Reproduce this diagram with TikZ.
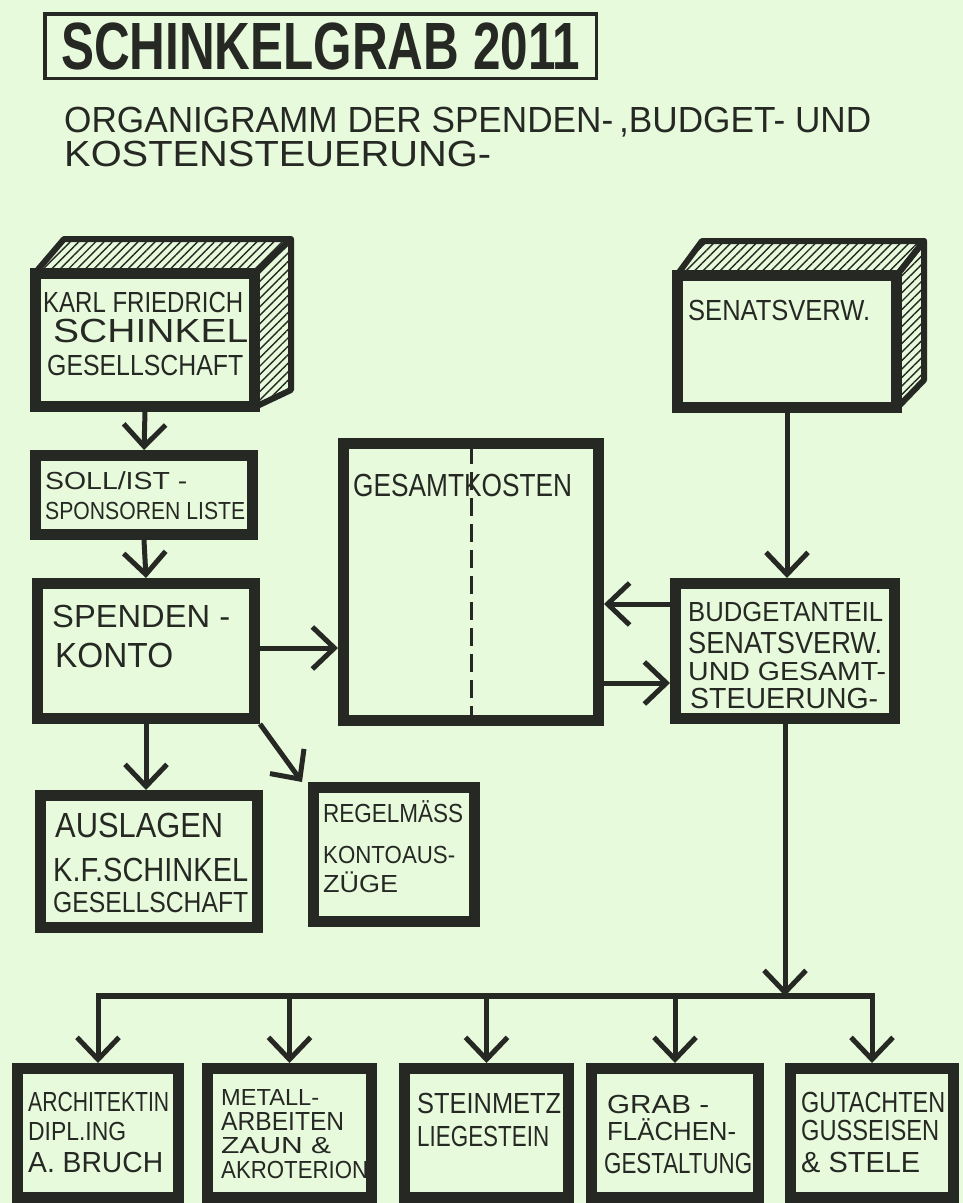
\documentclass[tikz,border=0pt]{standalone}
\usepackage{fontspec}
\newfontfamily\hand{Liberation Sans}
\usetikzlibrary{arrows.meta,patterns.meta}
\definecolor{ink}{RGB}{38,40,36}
\definecolor{paper}{RGB}{232,250,220}
\newcommand{\tx}[3]{\resizebox{#1pt}{#2pt}{\hand\smash{#3}\vphantom{X}}}
\begin{document}
\begin{tikzpicture}[x=1pt,y=-1pt,
  ibox/.style={draw=ink, line width=11pt, inner sep=0pt},
  txt/.style={inner sep=0pt, anchor=west, text=ink},
  arr/.style={draw=ink, line width=5pt, -{Straight Barb[length=22pt,width=42pt]}},
  plain/.style={draw=ink, line width=6pt},
  hatch/.style={pattern={Lines[angle=45,distance=6pt,line width=1.4pt]}, pattern color=ink},
  edge3d/.style={draw=ink, line width=6pt, line join=round},
  divider/.style={draw=ink, line width=3pt, dash pattern=on 18pt off 8pt}]
\fill[paper] (0,0) rectangle (963,1203);
\useasboundingbox (0,0) rectangle (963,1203);

% title
\node[draw=ink, line width=3.5pt, inner sep=0pt, minimum width=551.5pt, minimum height=64.5pt] (titlebox) at (320.5,46) {};
\node[txt] (ttitle) at (61,46) {\tx{519}{46}{\bfseries SCHINKELGRAB 2011}};
\node[txt] (tsub1) at (64,120) {\tx{807}{25}{ORGANIGRAMM DER SPENDEN-\,\smash{,}BUDGET- UND}};
\node[txt] (tsub2) at (64,154) {\tx{427}{25}{KOSTENSTEUERUNG-}};

% 3D faces
\fill[hatch] (35,273) -- (64,239) -- (291,239) -- (255,273) -- cycle;
\draw[edge3d] (35,273) -- (64,239) -- (291,239) -- (255,273) -- cycle;
\fill[hatch] (255,273) -- (291,239) -- (291,390) -- (255,407) -- cycle;
\draw[edge3d] (255,273) -- (291,239) -- (291,390) -- (255,407) -- cycle;
\fill[hatch] (677,275) -- (702,241) -- (924,241) -- (897,275) -- cycle;
\draw[edge3d] (677,275) -- (702,241) -- (924,241) -- (897,275) -- cycle;
\fill[hatch] (897,275) -- (924,241) -- (924,380) -- (897,408) -- cycle;
\draw[edge3d] (897,275) -- (924,241) -- (924,380) -- (897,408) -- cycle;

% boxes
\node[ibox, fill=paper, minimum width=219pt, minimum height=133pt] (kfs) at (145,340) {};
\node[ibox, minimum width=217pt, minimum height=79pt] (soll) at (144,495) {};
\node[ibox, minimum width=217pt, minimum height=135pt] (spenden) at (146,651) {};
\node[ibox, minimum width=255pt, minimum height=277pt] (gesamt) at (471,582) {};
\node[ibox, minimum width=219pt, minimum height=135pt] (budget) at (785,651) {};
\node[ibox, fill=paper, minimum width=219pt, minimum height=132pt] (senat) at (787,341.5) {};
\node[ibox, minimum width=217pt, minimum height=132pt] (auslagen) at (149,861.5) {};
\node[ibox, minimum width=161pt, minimum height=134pt] (regel) at (394,854.5) {};
\node[ibox, minimum width=161pt, minimum height=129pt] (b1) at (98,1133) {};
\node[ibox, minimum width=164pt, minimum height=129pt] (b2) at (289.5,1133) {};
\node[ibox, minimum width=164pt, minimum height=129pt] (b3) at (486.5,1133) {};
\node[ibox, minimum width=167pt, minimum height=129pt] (b4) at (675,1133) {};
\node[ibox, minimum width=163pt, minimum height=129pt] (b5) at (872,1133) {};

% divider in Gesamtkosten
\draw[divider] ([yshift=-8pt]gesamt.north) -- ([yshift=6pt]gesamt.south);

% texts
\node[txt] (k1) at (43,302) {\tx{200}{20}{KARL FRIEDRICH}};
\node[txt] (k2) at (53,331) {\tx{195}{23}{SCHINKEL}};
\node[txt] (k3) at (47,365) {\tx{196}{20}{GESELLSCHAFT}};
\node[txt] (s1) at (45,481) {\tx{142}{17}{SOLL/IST -}};
\node[txt] (s2) at (45,511) {\tx{200}{17}{SPONSOREN LISTE}};
\node[txt] (p1) at (52,616) {\tx{178}{22}{SPENDEN -}};
\node[txt] (p2) at (55,655) {\tx{118}{24}{KONTO}};
\node[txt] (g1) at (353,485) {\tx{219}{22}{GESAMTKOSTEN}};
\node[txt] (n1) at (688,310) {\tx{182}{20}{SENATSVERW.}};
\node[txt] (u1) at (688,612) {\tx{195}{19}{BUDGETANTEIL}};
\node[txt] (u2) at (688,643) {\tx{194}{21}{SENATSVERW.}};
\node[txt] (u3) at (688,671) {\tx{198}{18}{UND GESAMT-}};
\node[txt] (u4) at (690,698) {\tx{188}{20}{STEUERUNG-}};
\node[txt] (a1) at (55,825) {\tx{168}{24}{AUSLAGEN}};
\node[txt] (a2) at (53,870) {\tx{195}{23}{K.F.SCHINKEL}};
\node[txt] (a3) at (53,902) {\tx{195}{20}{GESELLSCHAFT}};
\node[txt] (r1) at (323,813) {\tx{140}{18}{REGELMÄSS}};
\node[txt] (r2) at (323,855) {\tx{132}{17}{KONTOAUS-}};
\node[txt] (r3) at (323,884) {\tx{75}{17}{ZÜGE}};
\node[txt] (x11) at (28,1102) {\tx{141}{19}{ARCHITEKTIN}};
\node[txt] (x12) at (28,1131) {\tx{98}{18}{DIPL.ING}};
\node[txt] (x13) at (28,1162) {\tx{135}{20}{A. BRUCH}};
\node[txt] (x21) at (221,1097) {\tx{98}{16}{METALL-}};
\node[txt] (x22) at (221,1121) {\tx{123}{18}{ARBEITEN}};
\node[txt] (x23) at (221,1145) {\tx{110}{16}{ZAUN \&}};
\node[txt] (x24) at (221,1170) {\tx{147}{17}{AKROTERION}};
\node[txt] (x31) at (417,1103) {\tx{144}{20}{STEINMETZ}};
\node[txt] (x32) at (417,1136) {\tx{132}{20}{LIEGESTEIN}};
\node[txt] (x41) at (607,1104) {\tx{102}{18}{GRAB -}};
\node[txt] (x42) at (607,1131) {\tx{129}{18}{FLÄCHEN-}};
\node[txt] (x43) at (604,1163) {\tx{148}{20}{GESTALTUNG}};
\node[txt] (x51) at (801,1102) {\tx{144}{20}{GUTACHTEN}};
\node[txt] (x52) at (801,1130) {\tx{138}{20}{GUSSEISEN}};
\node[txt] (x53) at (801,1162) {\tx{119}{20}{\& STELE}};

% connectors
\draw[arr] (kfs.south) -- (soll.north);
\draw[arr] (soll.south) -- (spenden.north);
\draw[arr] ([yshift=3pt]spenden.east) -- ([yshift=3pt]spenden.east -| gesamt.west);
\draw[arr] (spenden.south) -- (spenden.south |- auslagen.north);
\draw[arr] (spenden.south east) -- ([xshift=-6pt]regel.north west);
\draw[arr] (senat.south) -- (senat.south |- budget.north);
\coordinate (bu1) at ([yshift=47pt]budget.west);
\coordinate (bu2) at ([yshift=-32pt]budget.west);
\draw[arr] (bu1) -- (bu1 -| gesamt.east);
\draw[arr] (bu2 -| gesamt.east) -- (bu2);
\coordinate (j) at (785,996);
\draw[arr] (budget.south) -- (j);
\draw[plain] ([xshift=-2.5pt]b1.north |- j) -- ([xshift=2.5pt]b5.north |- j);
\foreach \b in {b1,b2,b3,b4,b5} {\draw[arr] (\b.north |- j) -- (\b.north);}
\end{tikzpicture}
\end{document}
